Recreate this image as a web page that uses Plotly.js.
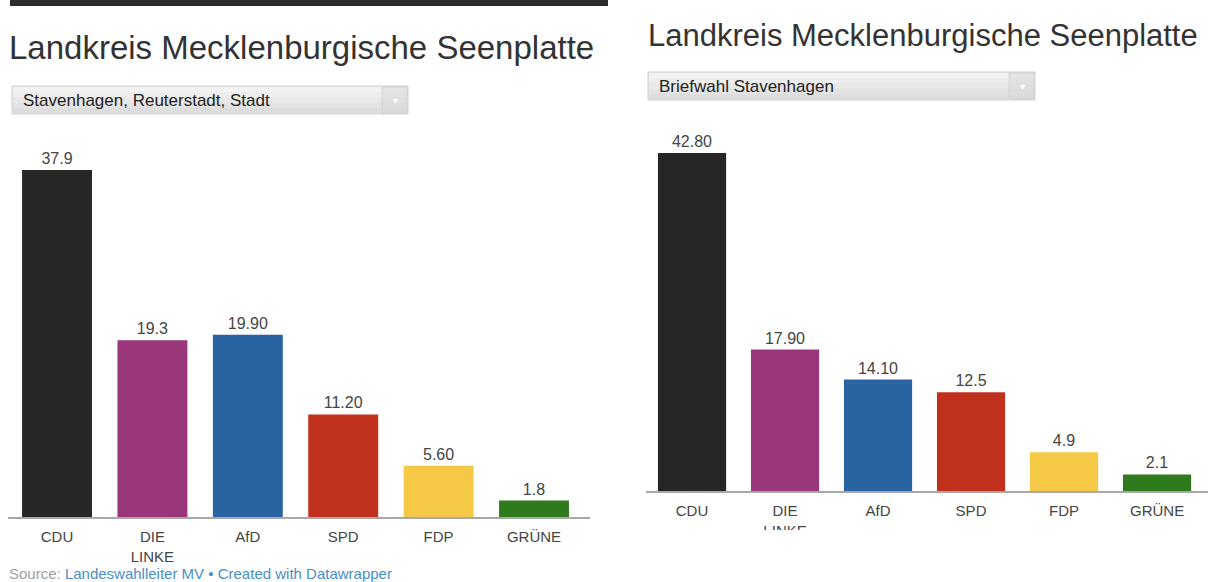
<!DOCTYPE html>
<html>
<head>
<meta charset="utf-8">
<script src="https://cdn.plot.ly/plotly-3.0.1.min.js"></script>
<style>
html,body{margin:0;padding:0;background:#fff;}
#chart{width:1216px;height:582px;}
</style>
</head>
<body>
<div id="chart"></div>
<script>
// ---- data ----
const parties = ['CDU', 'DIE<br>LINKE', 'AfD', 'SPD', 'FDP', 'GRÜNE'];
const colors = ['#262626', '#9a367a', '#2a63a2', '#c0311e', '#f5c845', '#2e7a1d'];

const leftValues = [37.9, 19.3, 19.9, 11.2, 5.6, 1.8];
const leftLabels = ['37.9', '19.3', '19.90', '11.20', '5.60', '1.8'];

const rightValues = [42.8, 17.9, 14.1, 12.5, 4.9, 2.1];
const rightLabels = ['42.80', '17.90', '14.10', '12.5', '4.9', '2.1'];

const titleText = 'Landkreis Mecklenburgische Seenplatte';
const leftSelect = 'Stavenhagen, Reuterstadt, Stadt';
const rightSelect = 'Briefwahl Stavenhagen';

// ---- layout helpers ----
const W = 1216, H = 582;
const px = x => x / W;
const py = y => 1 - y / H;
const FONT = '"Liberation Sans", Arial, sans-serif';

const traces = [
  {
    type: 'bar', x: parties, y: leftValues, xaxis: 'x', yaxis: 'y',
    marker: {color: colors},
    text: leftLabels, textposition: 'outside', cliponaxis: false,
    textfont: {size: 16, color: '#444', family: FONT},
    hoverinfo: 'skip'
  },
  {
    type: 'bar', x: parties, y: rightValues, xaxis: 'x2', yaxis: 'y2',
    marker: {color: colors},
    text: rightLabels, textposition: 'outside', cliponaxis: false,
    textfont: {size: 16, color: '#444', family: FONT},
    hoverinfo: 'skip'
  }
];

function dropdown(x0, x1, y0, y1) {
  const h = y1 - y0;
  const bands = ['#f3f3f3', '#eeeeee', '#e9e9e9', '#e3e3e3', '#dddddd'];
  const out = [
    {type: 'rect', xref: 'paper', yref: 'paper', x0: px(x0), x1: px(x1), y0: py(y1), y1: py(y0),
     fillcolor: '#e6e6e6', line: {color: '#d0d0d0', width: 1}, layer: 'below'}
  ];
  bands.forEach((c, i) => {
    out.push({type: 'rect', xref: 'paper', yref: 'paper',
      x0: px(x0 + 1), x1: px(x1 - 1),
      y0: py(y0 + 1 + (h - 2) * (i + 1) / bands.length), y1: py(y0 + 1 + (h - 2) * i / bands.length),
      fillcolor: c, line: {width: 0}, layer: 'below'});
  });
  out.push({type: 'rect', xref: 'paper', yref: 'paper', x0: px(x1 - 26), x1: px(x1 - 1), y0: py(y1 - 1), y1: py(y0 + 1),
     fillcolor: 'rgba(215,215,215,0.55)', line: {color: 'rgba(200,200,200,0.6)', width: 1}, layer: 'below'});
  return out;
}

const shapes = [
  // dark rule at top of left panel
  {type: 'rect', xref: 'paper', yref: 'paper', x0: px(10), x1: px(608), y0: py(6), y1: py(0),
   fillcolor: '#2b2b2b', line: {width: 0}},
  ...dropdown(12, 408, 86, 114),
  ...dropdown(648, 1035, 72, 100),
  // crop of the right screenshot
  {type: 'rect', xref: 'paper', yref: 'paper', x0: px(615), x1: 1, y0: 0, y1: py(530),
   fillcolor: '#ffffff', line: {width: 0}, layer: 'above'}
];

const annotations = [
  {text: titleText, xref: 'paper', yref: 'paper', x: px(7), y: py(47), xanchor: 'left', yanchor: 'middle',
   showarrow: false, font: {family: FONT, size: 33, color: '#333'}},
  {text: titleText, xref: 'paper', yref: 'paper', x: px(646), y: py(35), xanchor: 'left', yanchor: 'middle',
   showarrow: false, font: {family: FONT, size: 31, color: '#333'}},
  {text: leftSelect, xref: 'paper', yref: 'paper', x: px(21), y: py(100), xanchor: 'left', yanchor: 'middle',
   showarrow: false, font: {family: FONT, size: 17, color: '#222'}},
  {text: rightSelect, xref: 'paper', yref: 'paper', x: px(657), y: py(86), xanchor: 'left', yanchor: 'middle',
   showarrow: false, font: {family: FONT, size: 17, color: '#222'}},
  {text: '▾', xref: 'paper', yref: 'paper', x: px(395), y: py(100), xanchor: 'center', yanchor: 'middle',
   showarrow: false, font: {family: FONT, size: 10, color: '#ffffff'}},
  {text: '▾', xref: 'paper', yref: 'paper', x: px(1022), y: py(86), xanchor: 'center', yanchor: 'middle',
   showarrow: false, font: {family: FONT, size: 10, color: '#ffffff'}},
  {text: '<span style="color:#a0a0a0">Source: </span>Landeswahlleiter MV • Created with Datawrapper',
   xref: 'paper', yref: 'paper', x: px(7), y: py(573), xanchor: 'left', yanchor: 'middle',
   showarrow: false, font: {family: FONT, size: 15, color: '#4a8ec6'}}
];

const xBase = {
  type: 'category', showline: true, linecolor: '#a8a8a8', linewidth: 2,
  ticks: '', showgrid: false, zeroline: false, fixedrange: true,
  tickfont: {family: FONT, size: 15, color: '#444'}, ticklabelstandoff: 5
};
const yBase = {visible: false, showgrid: false, zeroline: false, fixedrange: true};

const layout = {
  width: W, height: H,
  margin: {l: 0, r: 0, t: 0, b: 0},
  paper_bgcolor: '#ffffff', plot_bgcolor: 'rgba(0,0,0,0)',
  showlegend: false, bargap: 0.267,
  font: {family: FONT},
  xaxis: Object.assign({}, xBase, {domain: [px(8), px(590)], anchor: 'y', range: [-0.514, 5.587]}),
  yaxis: Object.assign({}, yBase, {domain: [py(517), py(140)], range: [0, 377 / 9.156]}),
  xaxis2: Object.assign({}, xBase, {domain: [px(646), px(1208)], anchor: 'y2', range: [-0.495, 5.548]}),
  yaxis2: Object.assign({}, yBase, {domain: [py(491), py(120)], range: [0, 371 / 7.9]}),
  shapes: shapes,
  annotations: annotations
};

Plotly.newPlot('chart', traces, layout, {displayModeBar: false, staticPlot: true});
</script>
</body>
</html>
